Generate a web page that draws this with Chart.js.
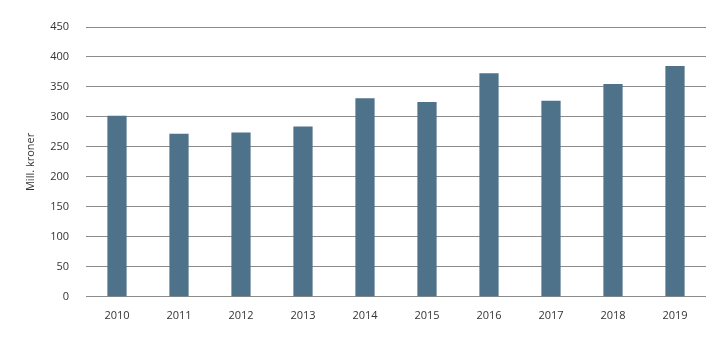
<!DOCTYPE html>
<html>
<head>
<meta charset="utf-8">
<script src="https://cdn.jsdelivr.net/npm/chart.js@4"></script>
<style>
  html, body { margin: 0; padding: 0; background: #fff; }
  #wrap { width: 720px; height: 341px; }
</style>
</head>
<body>
<div id="wrap"><canvas id="chart" width="720" height="341"></canvas></div>
<script>
// Data
const years = ['2010', '2011', '2012', '2013', '2014', '2015', '2016', '2017', '2018', '2019'];
const values = [302, 272, 274, 284, 331, 325, 373, 327, 355, 385];
const yTicks = [0, 50, 100, 150, 200, 250, 300, 350, 400, 450];

const ctx = document.getElementById('chart').getContext('2d');
new Chart(ctx, {
  type: 'bar',
  data: {
    labels: years,
    datasets: [{
      label: 'Mill. kroner',
      data: values,
      backgroundColor: '#4e7289',
      barPercentage: 0.62,
      categoryPercentage: 0.5,
    }],
  },
  options: {
    responsive: false,
    animation: false,
    layout: { padding: { top: 27, right: 14, bottom: 15, left: 0 } },
    plugins: { legend: { display: false }, tooltip: { enabled: false } },
    scales: {
      x: {
        grid: { display: false },
        border: { display: false },
        ticks: { color: '#333', font: { family: 'Open Sans', size: 11 }, padding: 4, maxRotation: 0 },
      },
      y: {
        min: 0,
        max: 450,
        afterBuildTicks: (scale) => { scale.ticks = yTicks.map(v => ({ value: v })); },
        afterFit: (scale) => { scale.width = 86; },
        grid: { color: '#8c8c8c', lineWidth: 1, drawTicks: false },
        border: { display: false },
        ticks: { color: '#333', font: { family: 'Open Sans', size: 11 }, padding: 17 },
        title: {
          display: true,
          text: 'Mill. kroner',
          color: '#333',
          font: { family: 'Open Sans', size: 11 },
          padding: { top: 24, bottom: 0 },
        },
      },
    },
  },
});
</script>
</body>
</html>
